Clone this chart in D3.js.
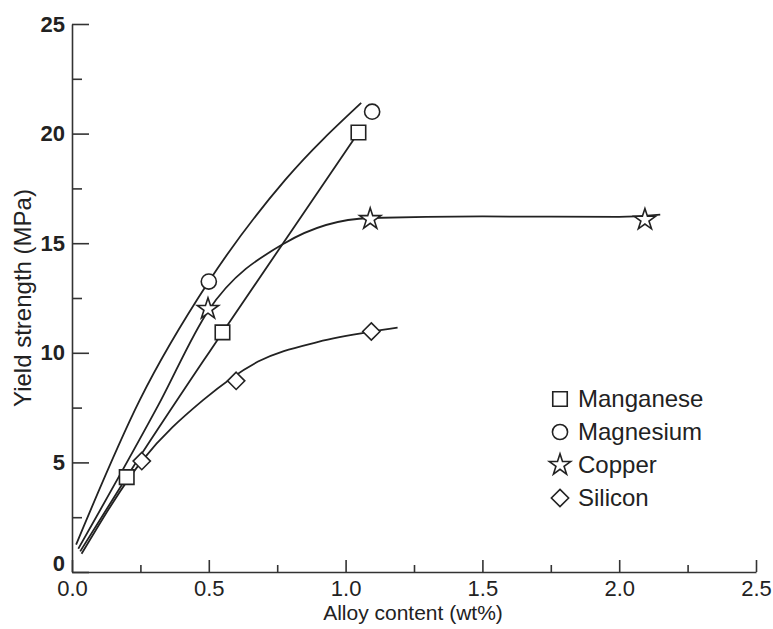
<!DOCTYPE html>
<html>
<head>
<meta charset="utf-8">
<script src="https://cdn.jsdelivr.net/npm/d3@7"></script>
<style>
  body { margin: 0; background: #fff; }
  svg { display: block; font-family: "Liberation Sans", Arial, sans-serif; }
</style>
</head>
<body>
<svg id="svg" width="773" height="629"></svg>
<script>
// measured points (markers)
const mnX = [0.2, 0.55, 1.047];
const mnY = [4.33, 10.93, 20.05];
const mgX = [0.5, 1.097];
const mgY = [13.25, 21.0];
const cuX = [0.497, 1.09, 2.094];
const cuY = [12.0, 16.1, 16.07];
const siX = [0.255, 0.6, 1.094];
const siY = [5.06, 8.72, 10.97];

// fitted curves
const mnCurveX = [0.03, 0.2, 0.55, 1.047];
const mnCurveY = [0.94, 4.33, 10.93, 20.05];
const mgCurveX = [0.015, 0.248, 0.5, 0.78, 1.057];
const mgCurveY = [1.25, 7.85, 13.25, 17.9, 21.4];
const cuCurveX = [0.023, 0.315, 0.497, 0.777, 1.09, 1.5, 2.0, 2.15];
const cuCurveY = [1.06, 7.6, 11.9, 15.0, 16.15, 16.22, 16.2, 16.3];
const siCurveX = [0.035, 0.255, 0.48, 0.68, 0.9, 1.094, 1.19];
const siCurveY = [0.83, 5.06, 7.85, 9.6, 10.5, 10.97, 11.15];

const seriesNames = ["Manganese", "Magnesium", "Copper", "Silicon"];
const xTicks = [0, 0.5, 1.0, 1.5, 2.0, 2.5];
const yTicks = [0, 5, 10, 15, 20, 25];

const svg = d3.select("#svg");
const ink = "#222";

const x = d3.scaleLinear().domain([0, 2.5]).range([72, 756]);
const y = d3.scaleLinear().domain([0, 25]).range([572, 24]);

// minor ticks first
svg.append("g")
	.attr("transform", `translate(0,${y(0)})`)
	.call(d3.axisBottom(x).tickValues(d3.range(0.25, 2.5, 0.5)).tickSize(-7).tickFormat(""))
	.call((g) => g.select(".domain").remove());
svg.append("g")
	.attr("transform", `translate(${x(0)},0)`)
	.call(d3.axisLeft(y).tickValues(d3.range(2.5, 25, 5)).tickSize(-10).tickFormat(""))
	.call((g) => g.select(".domain").remove());

const xAxis = svg.append("g")
	.attr("transform", `translate(0,${y(0)})`)
	.call(d3.axisBottom(x).tickValues(xTicks).tickSize(-12).tickSizeOuter(0).tickPadding(8).tickFormat(d3.format(".1f")));
xAxis.selectAll("text").attr("font-size", 22).attr("font-family", "Liberation Sans, Arial");

const yAxis = svg.append("g")
	.attr("transform", `translate(${x(0)},0)`)
	.call(d3.axisLeft(y).tickValues(yTicks).tickSize(-17).tickSizeOuter(0).tickPadding(7));
yAxis.selectAll("text").attr("font-size", 22).attr("font-weight", "bold").attr("font-family", "Liberation Sans, Arial")
	.attr("dy", (d) => (d === 0 ? "-0.08em" : "0.32em"));

svg.selectAll(".tick line, .domain").attr("stroke", "#333").attr("stroke-width", 1.6);
svg.selectAll(".tick text").attr("fill", ink);

svg.append("text")
	.attr("x", 413).attr("y", 620)
	.attr("text-anchor", "middle").attr("font-size", 21).attr("fill", ink)
	.text("Alloy content (wt%)");
svg.append("text")
	.attr("transform", "translate(31,298) rotate(-90)")
	.attr("text-anchor", "middle").attr("font-size", 24).attr("fill", ink)
	.text("Yield strength (MPa)");

// curves
const line = d3.line().x((d) => x(d[0])).y((d) => y(d[1])).curve(d3.curveMonotoneX);
const curves = [
	[mnCurveX, mnCurveY],
	[mgCurveX, mgCurveY],
	[cuCurveX, cuCurveY],
	[siCurveX, siCurveY],
];
svg.append("g").selectAll("path")
	.data(curves)
	.join("path")
	.attr("d", (c) => line(c[0].map((v, i) => [v, c[1][i]])))
	.attr("fill", "none")
	.attr("stroke", ink)
	.attr("stroke-width", 1.8);

// markers
const symbols = [
	d3.symbol(d3.symbolSquare, 210),
	d3.symbol(d3.symbolCircle, 180),
	d3.symbol(d3.symbolStar, 140),
	d3.symbol(d3.symbolDiamond2 || d3.symbolDiamond, 190),
];
const points = [
	[mnX, mnY],
	[mgX, mgY],
	[cuX, cuY],
	[siX, siY],
];
points.forEach((p, k) => {
	svg.append("g").selectAll("path")
		.data(p[0].map((v, i) => [v, p[1][i]]))
		.join("path")
		.attr("transform", (d) => `translate(${x(d[0])},${y(d[1])})`)
		.attr("d", symbols[k])
		.attr("fill", "#fff")
		.attr("stroke", ink)
		.attr("stroke-width", 1.6);
});

// legend
const legend = svg.append("g").attr("transform", "translate(560,399)");
const rows = legend.selectAll("g")
	.data(seriesNames)
	.join("g")
	.attr("transform", (d, i) => `translate(0,${i * 33})`);
rows.append("path")
	.attr("d", (d, i) => symbols[i]())
	.attr("fill", "#fff")
	.attr("stroke", ink)
	.attr("stroke-width", 1.6);
rows.append("text")
	.attr("x", 18).attr("y", 8)
	.attr("font-size", 24).attr("fill", ink)
	.text((d) => d);
</script>
</body>
</html>
